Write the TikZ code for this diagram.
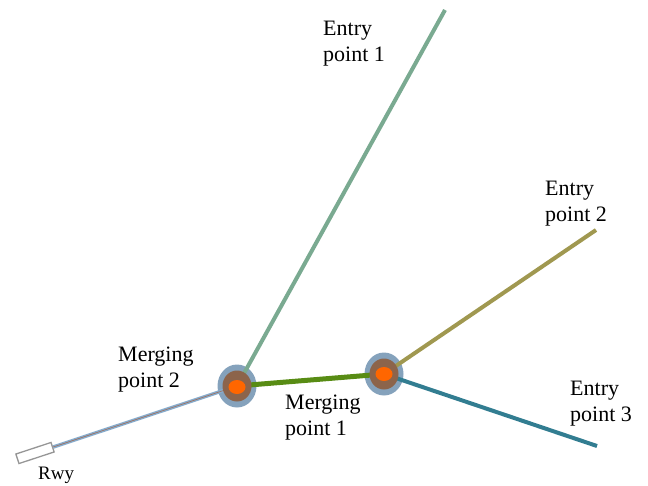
\documentclass[tikz,border=0pt]{standalone}
\usepackage{fontspec}
\setmainfont{Liberation Serif}
\usetikzlibrary{calc}
\definecolor{cOuter}{RGB}{133,162,188}
\definecolor{cBrown}{RGB}{140,100,75}
\definecolor{cOrange}{RGB}{255,102,0}
\definecolor{cE1}{RGB}{122,170,145}
\definecolor{cE2}{RGB}{160,152,80}
\definecolor{cE3}{RGB}{50,125,145}
\definecolor{cMid}{RGB}{88,140,20}
\definecolor{cRwy}{RGB}{135,172,205}
\definecolor{cRwyC}{RGB}{160,110,90}
\definecolor{cBox}{RGB}{150,150,150}
\begin{document}
\begin{tikzpicture}[x=1pt,y=-1pt,
  lbl/.style={align=left,inner sep=0pt,anchor=base west,font=\fontsize{22}{26}\selectfont},
  route/.style={line width=4pt},
  outerc/.style={fill=cOuter},
  brownc/.style={fill=cBrown},
  orangec/.style={fill=cOrange}]
\useasboundingbox (0,0) rectangle (648,485);
\coordinate (mp2) at (237,386);
\coordinate (mp1) at (384,374);
\coordinate (e1) at (445,10);
\coordinate (e2) at (596,230);
\coordinate (e3) at (597,446);
% outer halos
\fill[outerc] (mp2) ellipse [x radius=19.5, y radius=21.5];
\fill[outerc] (mp1) ellipse [x radius=19.5, y radius=21.5];
% runway
\node[draw=cBox, line width=1.3pt, fill=white, minimum width=37pt, minimum height=10pt, inner sep=0pt, rotate=18.2] (rwy) at (35,453) {};
\draw[cRwy, line width=3.5pt] (mp2) -- (rwy.east);
\draw[cRwyC, line width=0.6pt] (mp2) -- (rwy.east);
% routes
\draw[route, cE1] (mp2) -- (e1);
\draw[route, cE2] (mp1) -- (e2);
\draw[route, cE3] (mp1) -- (e3);
\draw[cMid, line width=5pt] (mp2) -- (mp1);
% inner circles
\fill[brownc] (mp2) ellipse [x radius=14.5, y radius=15.5];
\fill[brownc] (mp1) ellipse [x radius=14.5, y radius=15.5];
\fill[orangec] ($(mp2)+(0,1)$) ellipse [x radius=8.5, y radius=7];
\fill[orangec] ($(mp1)+(0,0)$) ellipse [x radius=8.5, y radius=7];
% labels
\node[lbl] (l1) at (323,61) {Entry\\point 1};
\node[lbl] (l2) at (545,221) {Entry\\point 2};
\node[lbl] (l3) at (570,421) {Entry\\point 3};
\node[lbl] (lm2) at (118,387) {Merging\\point 2};
\node[lbl] (lm1) at (285,435) {Merging\\point 1};
\node[lbl, font=\fontsize{19}{22}\selectfont] (lr) at (38,479) {Rwy};
\end{tikzpicture}
\end{document}
